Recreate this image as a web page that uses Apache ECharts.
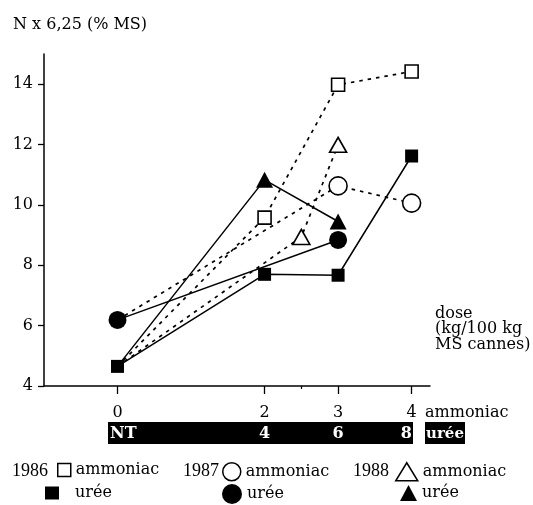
<!DOCTYPE html>
<html><head><meta charset="utf-8">
<script src="https://cdn.jsdelivr.net/npm/echarts@6/dist/echarts.min.js"></script>
<style>html,body{margin:0;padding:0;background:#fff}#c{width:533px;height:505px}</style>
</head><body><div id="c"></div>
<script>
// ---- data ----
const yTicks = [4, 6, 8, 10, 12, 14];
const ammoniacDoses = [0, 2, 3, 4];
const minorDoses = [2.5];
const ureeTickLabels = ['NT', '4', '6', '8'];
const years = ['1986', '1987', '1988'];
const a1986 = [[0, 4.65], [2, 9.58], [3, 13.98], [4, 14.42]];
const u1986 = [[0, 4.65], [2, 7.7], [3, 7.67], [4, 11.62]];
const a1987 = [[0, 6.19], [3, 10.63], [4, 10.06]];
const u1987 = [[0, 6.19], [3, 8.84]];
const a1988 = [[0, 4.65], [2.5, 8.94], [3, 11.99]];
const u1988 = [[0, 4.65], [2, 10.83], [3, 9.45]];

const FONT = 'DejaVu Serif';
const FONT2 = 'Liberation Serif';
const FS = 16;
const chart = echarts.init(document.getElementById('c'), null, {renderer: 'canvas'});

function mk(name, data, symbol, size, filled, showFirst) {
  return {
    type: 'line', name: name,
    data: data.map((d, i) => (i === 0 && !showFirst) ? {value: d, symbol: 'none'} : d),
    symbol: symbol, symbolSize: size, showSymbol: true, showAllSymbol: true,
    lineStyle: {color: '#000', width: filled ? 1.5 : 1.7, type: filled ? 'solid' : [3.5, 5]},
    itemStyle: {color: filled ? '#000' : '#fff', borderColor: '#000', borderWidth: filled ? 0 : 1.6},
    z: filled ? 4 : 3, silent: true, animation: false, emphasis: {disabled: true}
  };
}

const series = [
  mk('1986 ammoniac', a1986, 'rect', 13, false, false),
  mk('1987 ammoniac', a1987, 'circle', 18, false, false),
  mk('1988 ammoniac', a1988, 'triangle', [17, 15], false, false),
  mk('1986 urée', u1986, 'rect', 13, true, true),
  mk('1987 urée', u1987, 'circle', 18, true, true),
  mk('1988 urée', u1988, 'triangle', [17, 16], true, false)
];

function lg(name, left, top, icon, w, h, filled, padLeft) {
  return {
    show: true, left: left, top: top, orient: 'horizontal', selectedMode: false,
    itemWidth: w, itemHeight: h, itemGap: 0, padding: 0,
    data: [{name: name, icon: icon,
      itemStyle: {color: filled ? '#000' : '#fff', borderColor: '#000', borderWidth: filled ? 0 : 1.5}}],
    formatter: n => n.split(' ')[1],
    textStyle: {fontFamily: FONT, fontSize: FS, color: '#000', padding: [0, 0, 0, padLeft]}
  };
}

chart.setOption({
  animation: false,
  textStyle: {fontFamily: FONT},
  title: {text: 'N x 6,25 (% MS)', left: 13, top: 17, padding: 0,
    textStyle: {fontFamily: FONT, fontSize: FS, fontWeight: 'normal', color: '#000'}},
  grid: {left: 44, right: 103, top: 54, bottom: 119},
  xAxis: [{
    type: 'value', min: -1, max: 4.25, position: 'bottom',
    axisLine: {onZero: false, lineStyle: {color: '#000', width: 1.5}},
    axisTick: {show: true, length: 8, lineStyle: {color: '#000', width: 1.3}, customValues: ammoniacDoses},
    axisLabel: {customValues: ammoniacDoses, color: '#000', fontSize: FS, fontFamily: FONT, margin: 19},
    splitLine: {show: false}
  }, {
    type: 'value', min: -1, max: 4.25, position: 'bottom',
    axisLine: {show: false, onZero: false},
    axisTick: {show: true, length: 3, lineStyle: {color: '#000', width: 1.2}, customValues: minorDoses},
    axisLabel: {show: false}, splitLine: {show: false}
  }],
  yAxis: {
    type: 'value', min: 4, max: 15,
    axisLine: {show: true, onZero: false, lineStyle: {color: '#000', width: 1.5}},
    axisTick: {show: true, length: 6, lineStyle: {color: '#000', width: 1.3}, customValues: yTicks},
    axisLabel: {customValues: yTicks, color: '#000', fontSize: FS, fontFamily: FONT, margin: 11},
    splitLine: {show: false}
  },
  legend: [
    lg('1986 ammoniac', 57, 462, 'rect', 13, 13, false, 0),
    lg('1986 urée', 45, 485, 'rect', 14, 13, true, 11),
    lg('1987 ammoniac', 222, 462, 'circle', 18, 18, false, 0),
    lg('1987 urée', 222, 484, 'circle', 20, 20, true, 0),
    lg('1988 ammoniac', 395, 462, 'triangle', 22, 18, false, 0),
    lg('1988 urée', 400, 485, 'triangle', 17, 16, true, 0)
  ],
  series: series
});

const px = v => chart.convertToPixel({xAxisIndex: 0}, v);
const barL = 108, barR = 413, barT = 422, barH = 22;
const g = [];
g.push({type: 'rect', shape: {x: barL, y: barT, width: barR - barL, height: barH}, style: {fill: '#000'}, silent: true});
ureeTickLabels.forEach((t, i) => {
  let x = px(ammoniacDoses[i]), align = 'center';
  if (i === 0) { x = barL + 2; align = 'left'; }
  if (i === ureeTickLabels.length - 1) { x = barR - 1; align = 'right'; }
  g.push({type: 'text', x: x, y: barT + barH / 2 + 1, silent: true,
    style: {text: t, fill: '#fff', font: 'bold ' + FS + 'px "' + FONT + '"', textAlign: align, textVerticalAlign: 'middle'}});
});
g.push({type: 'rect', shape: {x: 425, y: barT, width: 40, height: barH}, style: {fill: '#000'}, silent: true});
g.push({type: 'text', x: 445, y: barT + barH / 2 + 1, silent: true,
  style: {text: 'urée', fill: '#fff', font: 'bold 15px "' + FONT + '"', textAlign: 'center', textVerticalAlign: 'middle'}});
g.push({type: 'text', x: 425, y: 413, silent: true,
  style: {text: 'ammoniac', fill: '#000', font: FS + 'px "' + FONT + '"', textAlign: 'left', textVerticalAlign: 'middle'}});
g.push({type: 'text', x: 435, y: 306, silent: true,
  style: {text: 'dose\n(kg/100 kg\nMS cannes)', fill: '#000', font: FS + 'px "' + FONT + '"', lineHeight: 15.5, textAlign: 'left', textVerticalAlign: 'top'}});
const yearX = [12, 183, 353];
years.forEach((y, i) => g.push({type: 'text', x: yearX[i], y: 471, silent: true,
  style: {text: y, fill: '#000', font: '18px "' + FONT2 + '"', textAlign: 'left', textVerticalAlign: 'middle'}}));
chart.setOption({graphic: g});
</script></body></html>
